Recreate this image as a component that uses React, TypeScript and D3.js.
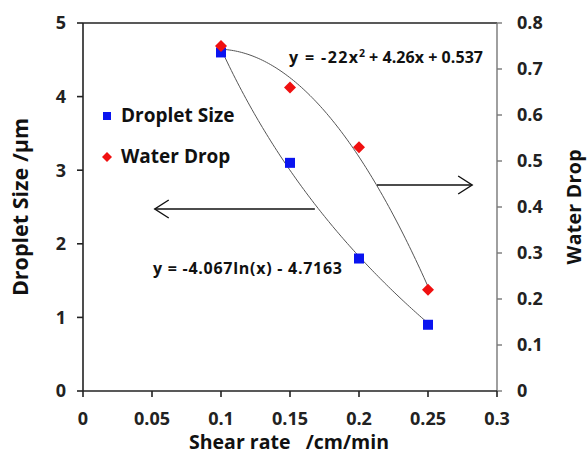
import React from "react";
import * as d3 from "d3";

const shearRate = [0.1, 0.15, 0.2, 0.25];
const dropletSize = [4.6, 3.1, 1.8, 0.9];
const waterDrop = [0.75, 0.66, 0.53, 0.22];
const xTicks = [0, 0.05, 0.1, 0.15, 0.2, 0.25, 0.3];
const leftTicks = [0, 1, 2, 3, 4, 5];
const rightTicks = [0, 0.1, 0.2, 0.3, 0.4, 0.5, 0.6, 0.7, 0.8];
// trendline coefficients as printed on chart
const logFit = [-4.067, -4.7163]; // y = a ln(x) + b
const polyFit = [-22, 4.26, 0.537]; // y = a x^2 + b x + c

const W = 588, H = 461;
const M = { left: 83, right: 91, top: 23, bottom: 70 };
const FONT = "'Open Sans', sans-serif";

export default function App() {
  const x = d3.scaleLinear().domain([0, 0.3]).range([M.left, W - M.right]);
  const yL = d3.scaleLinear().domain([0, 5]).range([H - M.bottom, M.top]);
  const yR = d3.scaleLinear().domain([0, 0.8]).range([H - M.bottom, M.top]);
  const x0 = M.left, x1 = W - M.right, y0 = H - M.bottom, y1 = M.top;

  const samples = d3.range(0, 101).map((i) => 0.1 + (0.15 * i) / 100);
  const logLine = d3
    .line<number>()
    .x((d) => x(d))
    .y((d) => yL(logFit[0] * Math.log(d) + logFit[1]))(samples);
  const polyLine = d3
    .line<number>()
    .x((d) => x(d))
    .y((d) => yR(polyFit[0] * d * d + polyFit[1] * d + polyFit[2]))(samples);

  const fmt = (v: number) => String(v);

  return (
    <svg
      width={W}
      height={H}
      style={{ position: "absolute", left: 0, top: 0, background: "#fff" }}
      fontFamily={FONT}
    >
      <rect width={W} height={H} fill="#fff" />
      {/* top border */}
      <line x1={x0} x2={x1} y1={y1} y2={y1} stroke="#222" strokeWidth={1.6} />
      {/* right axis */}
      <line x1={x1} x2={x1} y1={y1} y2={y0} stroke="#777" strokeWidth={1.4} />
      {rightTicks.map((t) => (
        <g key={"r" + t}>
          <line x1={x1} x2={x1 + 5} y1={yR(t)} y2={yR(t)} stroke="#777" strokeWidth={1.4} />
          <text x={x1 + 20} y={yR(t)} dy="0.36em" fontSize={18} fontWeight={700} fill="#222">
            {fmt(t)}
          </text>
        </g>
      ))}
      {/* left axis */}
      <line x1={x0} x2={x0} y1={y1} y2={y0} stroke="#222" strokeWidth={1.6} />
      {leftTicks.map((t) => (
        <g key={"l" + t}>
          <line x1={x0 - 6} x2={x0} y1={yL(t)} y2={yL(t)} stroke="#222" strokeWidth={1.6} />
          <text x={x0 - 17} y={yL(t)} dy="0.36em" textAnchor="end" fontSize={18} fontWeight={700} fill="#222">
            {fmt(t)}
          </text>
        </g>
      ))}
      {/* bottom axis */}
      <line x1={x0} x2={x1} y1={y0} y2={y0} stroke="#222" strokeWidth={1.6} />
      {xTicks.map((t) => (
        <g key={"x" + t}>
          <line x1={x(t)} x2={x(t)} y1={y0} y2={y0 + 6} stroke="#222" strokeWidth={1.6} />
          <text x={x(t)} y={y0 + 34} textAnchor="middle" fontSize={18} fontWeight={700} fill="#222">
            {fmt(t)}
          </text>
        </g>
      ))}
      {/* axis titles */}
      <text
        transform={`translate(28,${(y0 + y1) / 2}) rotate(-90)`}
        textAnchor="middle"
        fontSize={21.5}
        fontWeight={700}
        fill="#111"
      >
        Droplet Size /µm
      </text>
      <text
        transform={`translate(581,${(y0 + y1) / 2}) rotate(-90)`}
        textAnchor="middle"
        fontSize={19.5}
        fontWeight={700}
        fill="#111"
        textLength={115}
        lengthAdjust="spacing"
      >
        Water Drop
      </text>
      <text
        x={289}
        y={449}
        textAnchor="middle"
        fontSize={19.5}
        fontWeight={700}
        fill="#111"
        style={{ whiteSpace: "pre" }}
        textLength={200}
        lengthAdjust="spacing"
      >
        {"Shear rate   /cm/min"}
      </text>

      {/* trendlines */}
      <path d={logLine || ""} fill="none" stroke="#555" strokeWidth={1} />
      <path d={polyLine || ""} fill="none" stroke="#555" strokeWidth={1} />

      {/* arrows */}
      <g stroke="#111" strokeWidth={1.4} fill="none">
        <line x1={x(0.052)} x2={x(0.168)} y1={209} y2={209} />
        <polyline points={`${x(0.052) + 14},${200} ${x(0.052)},${209} ${x(0.052) + 14},${218}`} />
        <line x1={x(0.213)} x2={x(0.282)} y1={185} y2={185} />
        <polyline points={`${x(0.282) - 14},${176} ${x(0.282)},${185} ${x(0.282) - 14},${194}`} />
      </g>

      {/* equations */}
      <text x={289} y={63} fontSize={16} fontWeight={700} fill="#111" textLength={69} lengthAdjust="spacing">
        y = -22x
      </text>
      <text x={359} y={57} fontSize={10.5} fontWeight={700} fill="#111">
        2
      </text>
      <text
        x={483}
        y={63}
        textAnchor="end"
        fontSize={16}
        fontWeight={700}
        fill="#111"
        textLength={114}
        lengthAdjust="spacing"
      >
        + 4.26x + 0.537
      </text>
      <text x={153} y={274} fontSize={16} fontWeight={700} fill="#111" textLength={189} lengthAdjust="spacing">
        y = -4.067ln(x) - 4.7163
      </text>

      {/* data markers */}
      {shearRate.map((s, i) => (
        <rect
          key={"b" + i}
          x={x(s) - 5}
          y={yL(dropletSize[i]) - 5}
          width={10}
          height={10}
          fill="#0a14f0"
        />
      ))}
      {shearRate.map((s, i) => (
        <path
          key={"d" + i}
          transform={`translate(${x(s)},${yR(waterDrop[i])})`}
          d="M0,-6 L6,0 L0,6 L-6,0 Z"
          fill="#f01010"
        />
      ))}

      {/* legend */}
      <rect x={103} y={112} width={8} height={8} fill="#0a14f0" />
      <text x={121} y={122} fontSize={19} fontWeight={700} fill="#111">
        Droplet Size
      </text>
      <path transform="translate(107,157)" d="M0,-5 L5,0 L0,5 L-5,0 Z" fill="#f01010" />
      <text x={121} y={163} fontSize={19} fontWeight={700} fill="#111">
        Water Drop
      </text>
    </svg>
  );
}
